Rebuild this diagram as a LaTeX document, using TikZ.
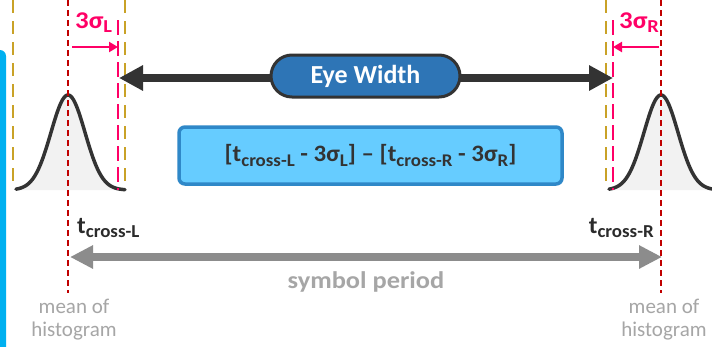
\documentclass[tikz,border=0pt]{standalone}
\usepackage{fontspec}
\setmainfont{Carlito}
\usetikzlibrary{arrows.meta}

\definecolor{cyanbar}{HTML}{00B0F0}
\definecolor{goldline}{HTML}{C9A227}
\definecolor{meanred}{HTML}{C00000}
\definecolor{sigpink}{HTML}{FF0066}
\definecolor{darkink}{HTML}{333333}
\definecolor{pillblue}{HTML}{2E75B6}
\definecolor{boxfill}{HTML}{66CCFF}
\definecolor{boxedge}{HTML}{2F88C8}
\definecolor{periodgray}{HTML}{8C8C8C}
\definecolor{softgray}{HTML}{A6A6A6}
\definecolor{bellfill}{HTML}{F2F2F2}

% lowered, reduced text used for subscripts
\newcommand\lowsub[1]{\raisebox{-0.2em}{\scalebox{0.76}{#1}}}
\newcommand\fsz[1]{\fontsize{#1}{#1}\selectfont}
% slightly widened lettering
\newcommand\widen[2]{\scalebox{#1}[1]{#2}}

\begin{document}
\begin{tikzpicture}[x=1pt,y=-1pt,
  goldguide/.style={goldline, line width=2pt, dash pattern=on 13pt off 8pt},
  meanguide/.style={meanred, line width=2.5pt, dash pattern=on 6pt off 4pt},
  sigmaguide/.style={sigpink, line width=2pt, dash pattern=on 15pt off 6pt},
  sigmaarrow/.style={sigpink, line width=2.5pt, -{Triangle[length=9pt,width=10pt]}},
  eyearrow/.style={darkink, line width=8pt, {Triangle[length=24pt,width=24pt]}-{Triangle[length=24pt,width=24pt]}},
  periodarrow/.style={periodgray, line width=8pt, {Triangle[length=23pt,width=22pt]}-{Triangle[length=23pt,width=22pt]}},
  bellline/.style={darkink, line width=3.5pt, line join=round, line cap=round},
  pill/.style={draw=darkink, line width=3pt, fill=pillblue, text=white,
    rounded corners=21pt, minimum width=189pt, minimum height=42pt, inner sep=0pt,
    font=\bfseries\fsz{26}},
  formulabox/.style={draw=boxedge, line width=3.5pt, fill=boxfill, text=darkink,
    rounded corners=6pt, minimum width=383pt, minimum height=57pt, inner sep=0pt,
    font=\bfseries\fsz{23.5}},
  sigmalabel/.style={text=sigpink, font=\bfseries\fsz{24}, inner sep=0pt},
  crosslabel/.style={text=darkink!85!black, font=\bfseries\fsz{24}, inner sep=0pt},
  periodlabel/.style={text=softgray, font=\bfseries\fsz{24}, inner sep=0pt},
  meanlabel/.style={text=softgray, font=\fsz{21}, align=center, inner sep=0pt}
]
\useasboundingbox (0,0) rectangle (712,346);
\fill[white] (0,0) rectangle (712,346);
\clip (0,0) rectangle (712,346);

% cyan side bar
\fill[cyanbar, rounded corners=6pt] (-14,50) rectangle (6,370);

% left histogram
\fill[bellfill] (16,190) -- plot[domain=16:125, samples=90, smooth]
  (\x, {190-95*exp(-((\x-68)^2)/578)}) -- (125,190) -- cycle;
\draw[bellline] plot[domain=16:125, samples=90, smooth]
  (\x, {190-95*exp(-((\x-68)^2)/578)});

% right histogram
\fill[bellfill] (609,190) -- plot[domain=609:720, samples=90, smooth]
  (\x, {190-95*exp(-((\x-661)^2)/578)}) -- (720,190) -- cycle;
\draw[bellline] plot[domain=609:720, samples=90, smooth]
  (\x, {190-95*exp(-((\x-661)^2)/578)});

% guide lines
\coordinate (gl1t) at (13,0);   \coordinate (gl1b) at (13,188);
\coordinate (gl2t) at (125,0);  \coordinate (gl2b) at (125,188);
\coordinate (gr1t) at (606,0);  \coordinate (gr1b) at (606,188);
\coordinate (mlt) at (68,0);    \coordinate (mlb) at (68,293);
\coordinate (mrt) at (661,0);   \coordinate (mrb) at (661,293);
\coordinate (slt) at (118,20);  \coordinate (slb) at (118,190);
\coordinate (srt) at (613,20);  \coordinate (srb) at (613,190);
\draw[goldguide] (gl1t) -- (gl1b);
\draw[goldguide] (gl2t) -- (gl2b);
\draw[goldguide] (gr1t) -- (gr1b);
\draw[sigmaguide] (slt) -- (slb);
\draw[sigmaguide] (srt) -- (srb);
\draw[meanguide] (mlt) -- (mlb);
\draw[meanguide] (mrt) -- (mrb);

% 3 sigma offsets
\coordinate (sal) at (72,47);  \coordinate (sar) at (118,47);
\coordinate (sbl) at (659,47); \coordinate (sbr) at (613,47);
\draw[sigmaarrow] (sal) -- (sar);
\draw[sigmaarrow] (sbl) -- (sbr);
\node[sigmalabel, anchor=base west] (sigL) at (75,28) {\widen{1.12}{3σ\lowsub{L}}};
\node[sigmalabel, anchor=base west] (sigR) at (619,28) {\widen{1.12}{3σ\lowsub{R}}};

% eye width
\coordinate (ewl) at (119,78);
\coordinate (ewr) at (613,78);
\draw[eyearrow] (ewl) -- (ewr);
\node[pill] (ew) at (365.5,76) {Eye Width};

\node[formulabox] (fw) at (370.5,155.5)
  {\widen{1.06}{[t\lowsub{cross-L} - 3σ\lowsub{L}] – [t\lowsub{cross-R} - 3σ\lowsub{R}]}};

% crossing times and symbol period
\node[crosslabel, anchor=base west] (tcl) at (77,233) {\widen{1.04}{t\lowsub{cross-L}}};
\node[crosslabel, anchor=base east] (tcr) at (654,233) {\widen{1.04}{t\lowsub{cross-R}}};
\coordinate (spl) at (70,257);
\coordinate (spr) at (662,257);
\draw[periodarrow] (spl) -- (spr);
\node[periodlabel, anchor=base] (sp) at (366,288) {\widen{1.1}{symbol period}};

\node[meanlabel] (meanL) at (74,320) {mean of\\[2pt]histogram};
\node[meanlabel] (meanR) at (664,320) {mean of\\[2pt]histogram};
\end{tikzpicture}
\end{document}
